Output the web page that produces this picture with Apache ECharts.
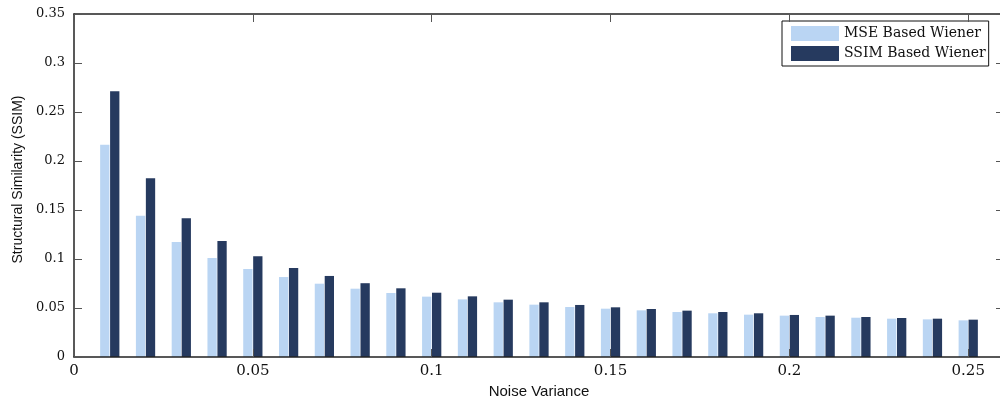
<!DOCTYPE html>
<html>
<head>
<meta charset="utf-8">
<script src="https://cdn.jsdelivr.net/npm/echarts@6/dist/echarts.min.js"></script>
<style>
  html, body { margin: 0; padding: 0; background: #fff; }
  #chart { width: 1000px; height: 402px; }
</style>
</head>
<body>
<div id="chart"></div>
<script>
// Noise variance levels (x positions of the bar groups)
const noiseVariance = [0.01, 0.02, 0.03, 0.04, 0.05, 0.06, 0.07, 0.08, 0.09, 0.10,
                       0.11, 0.12, 0.13, 0.14, 0.15, 0.16, 0.17, 0.18, 0.19, 0.20,
                       0.21, 0.22, 0.23, 0.24, 0.25];

// SSIM obtained with the MSE-optimal Wiener filter
const mseWiener = [0.2166, 0.1442, 0.1173, 0.1010, 0.0898, 0.0816, 0.0748, 0.0697, 0.0653, 0.0616,
                   0.0588, 0.0558, 0.0534, 0.0510, 0.0493, 0.0476, 0.0459, 0.0446, 0.0432, 0.0422,
                   0.0408, 0.0401, 0.0391, 0.0384, 0.0374];

// SSIM obtained with the SSIM-optimal Wiener filter
const ssimWiener = [0.2711, 0.1823, 0.1415, 0.1184, 0.1027, 0.0908, 0.0827, 0.0753, 0.0701, 0.0656,
                    0.0619, 0.0585, 0.0558, 0.0531, 0.0507, 0.0490, 0.0473, 0.0459, 0.0446, 0.0429,
                    0.0422, 0.0408, 0.0398, 0.0391, 0.0381];

const seriesNames = ['MSE Based Wiener', 'SSIM Based Wiener'];
const xAxisName = 'Noise Variance';
const yAxisName = 'Structural Similarity (SSIM)';

const xRange = { min: 0, max: 0.26, interval: 0.05 };
const yRange = { min: 0, max: 0.35, interval: 0.05 };

const lightBlue = '#bad5f3';
const navy = '#263a5f';
const tickFont = 'DejaVu Serif';

const pairs = (xs, ys) => xs.map((x, i) => [x, ys[i]]);

const boxLine = { show: true, onZero: false, lineStyle: { color: '#222', width: 1.5 } };
const innerTick = { show: true, inside: true, length: 8, lineStyle: { color: '#555', width: 1 } };

const chart = echarts.init(document.getElementById('chart'), null, { renderer: 'canvas' });

chart.setOption({
  animation: false,
  backgroundColor: '#fff',
  // the plot box runs a few pixels past the right edge of the canvas
  grid: { left: 74, top: 14, width: 930, height: 343, containLabel: false, outerBoundsMode: 'none' },
  legend: {
    orient: 'vertical',
    left: 782,
    top: 21,
    padding: [5, 3, 5, 9],
    itemGap: 5,
    itemWidth: 48,
    itemHeight: 15,
    icon: 'rect',
    backgroundColor: '#fff',
    borderColor: '#111',
    borderWidth: 1,
    borderRadius: 0,
    textStyle: { fontFamily: tickFont, fontSize: 14, color: '#111', padding: [0, 0, 0, 0] },
    data: seriesNames
  },
  xAxis: [
    {
      type: 'value',
      position: 'bottom',
      min: xRange.min, max: xRange.max, interval: xRange.interval,
      z: 5,
      axisLine: boxLine,
      axisTick: innerTick,
      splitLine: { show: false },
      axisLabel: {
        showMaxLabel: false,
        margin: 7,
        fontFamily: tickFont, fontSize: 15, color: '#111'
      },
      name: xAxisName,
      nameLocation: 'middle',
      nameGap: 25,
      nameTextStyle: { fontFamily: 'Liberation Sans', fontSize: 15, color: '#111' }
    },
    {
      type: 'value',
      position: 'top',
      min: xRange.min, max: xRange.max, interval: xRange.interval,
      z: 5,
      axisLine: boxLine,
      axisTick: innerTick,
      axisLabel: { show: false },
      splitLine: { show: false }
    }
  ],
  yAxis: [
    {
      type: 'value',
      position: 'left',
      min: yRange.min, max: yRange.max, interval: yRange.interval,
      z: 5,
      axisLine: boxLine,
      axisTick: innerTick,
      splitLine: { show: false },
      axisLabel: { margin: 9, fontFamily: tickFont, fontSize: 13, color: '#111' },
      name: yAxisName,
      nameLocation: 'middle',
      nameGap: 43,
      nameTextStyle: {
        fontFamily: 'Liberation Sans', fontSize: 14, color: '#111',
        padding: [0, 0, 0, 12]
      }
    },
    {
      type: 'value',
      position: 'right',
      min: yRange.min, max: yRange.max, interval: yRange.interval,
      z: 5,
      axisLine: boxLine,
      axisTick: innerTick,
      axisLabel: { show: false },
      splitLine: { show: false }
    }
  ],
  series: [
    {
      name: seriesNames[0],
      type: 'bar',
      xAxisIndex: 0, yAxisIndex: 0,
      barWidth: 9.3,
      barGap: '7%',
      itemStyle: { color: lightBlue },
      data: pairs(noiseVariance, mseWiener)
    },
    {
      name: seriesNames[1],
      type: 'bar',
      xAxisIndex: 0, yAxisIndex: 0,
      barWidth: 9.3,
      barGap: '7%',
      itemStyle: { color: navy },
      data: pairs(noiseVariance, ssimWiener)
    }
  ]
});
</script>
</body>
</html>
